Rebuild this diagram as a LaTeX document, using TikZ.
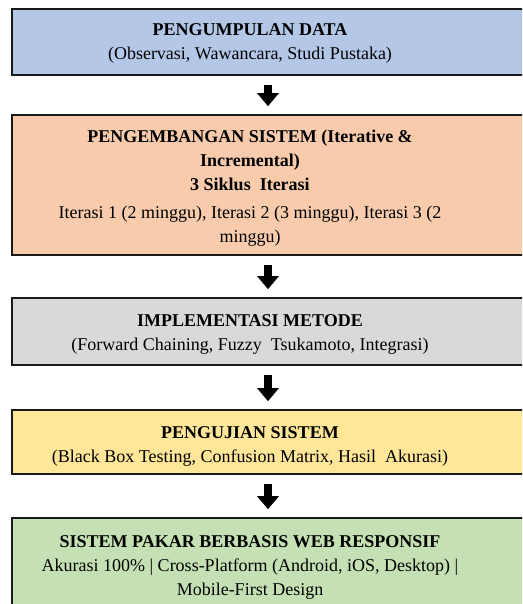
\documentclass[tikz,border=0pt]{standalone}
\usepackage{fontspec}
\setmainfont{Liberation Serif}
\usetikzlibrary{arrows.meta,calc}
\definecolor{cblue}{HTML}{B4C7E7}
\definecolor{corange}{HTML}{F8CBAD}
\definecolor{cgrey}{HTML}{D9D9D9}
\definecolor{cyellow}{HTML}{FFE699}
\definecolor{cgreen}{HTML}{C5E0B4}
\begin{document}
\begin{tikzpicture}[x=1pt,y=-1pt,
  stagebox/.style={draw=black!90, line width=1.6pt, rectangle, inner sep=0pt, minimum width=540pt},
  stagetext/.style={align=center, inner sep=0pt, font=\fontsize{18}{24}\selectfont},
  fatarr/.style={line width=8pt, -{Triangle[width=21pt,length=13pt]}, shorten <=9pt, shorten >=8pt}]
\useasboundingbox (0,0) rectangle (522,604);
\clip (0,0) rectangle (522,604);
\fill[white] (0,0) rectangle (522,604);
\coordinate (ax) at (268,0);
% boxes
\node[stagebox, fill=cblue,   minimum height=66pt]  (b1) at (282,42) {};
\node[stagebox, fill=corange, minimum height=140pt] (b2) at (282,185) {};
\node[stagebox, fill=cgrey,   minimum height=67pt]  (b3) at (282,331.5) {};
\node[stagebox, fill=cyellow, minimum height=64pt]  (b4) at (282,442) {};
\node[stagebox, fill=cgreen,  minimum height=100pt] (b5) at (282,568) {};
% texts
\node[stagetext] (t1) at (250,43) {\textbf{PENGUMPULAN DATA}\\(Observasi, Wawancara, Studi Pustaka)};
\node[stagetext] (t2) at (250,188) {\textbf{PENGEMBANGAN SISTEM (Iterative \&}\\\textbf{Incremental)}\\\textbf{3 Siklus\ \ Iterasi}\\[4pt]Iterasi 1 (2 minggu), Iterasi 2 (3 minggu), Iterasi 3 (2\\minggu)};
\node[stagetext] (t3) at (250,334.5) {\textbf{IMPLEMENTASI METODE}\\(Forward Chaining, Fuzzy\ \ Tsukamoto, Integrasi)};
\node[stagetext] (t4) at (250,446) {\textbf{PENGUJIAN SISTEM}\\(Black Box Testing, Confusion Matrix, Hasil\ \ Akurasi)};
\node[stagetext] (t5) at (250,567) {\textbf{SISTEM PAKAR BERBASIS WEB RESPONSIF}\\Akurasi 100\% | Cross-Platform (Android, iOS, Desktop) |\\Mobile-First Design};
% arrows
\draw[fatarr] (b1.south -| ax) -- (b2.north -| ax);
\draw[fatarr] (b2.south -| ax) -- (b3.north -| ax);
\draw[fatarr] (b3.south -| ax) -- (b4.north -| ax);
\draw[fatarr] (b4.south -| ax) -- (b5.north -| ax);
\end{tikzpicture}
\end{document}
